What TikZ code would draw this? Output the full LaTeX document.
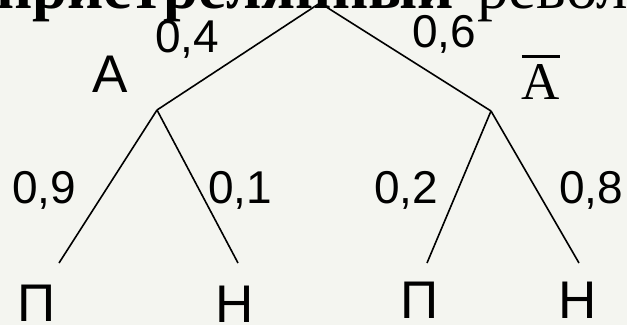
\documentclass[tikz,border=0pt]{standalone}
\usepackage{fontspec}
\setmainfont{Liberation Sans}
\newfontfamily\headfont{Liberation Serif}
\usetikzlibrary{positioning}
\definecolor{paper}{RGB}{244,245,240}
\definecolor{ink}{RGB}{0,0,0}
\newcommand{\barred}[1]{\vbox{\hrule height 2.6pt \kern 6pt \hbox{#1}}}
\tikzset{
  branch/.style={draw=ink, line width=1.6pt},
  prob/.style={anchor=base, font=\fontsize{46}{50}\selectfont, text=ink, inner sep=0pt},
  event/.style={anchor=base, font=\fontsize{53}{58}\selectfont, text=ink, inner sep=0pt},
  head/.style={anchor=base west, font=\fontsize{63}{70}\headfont, text=ink, inner sep=0pt},
}

\begin{document}
\begin{tikzpicture}[x=1pt,y=-1pt]
  \fill[paper] (0,0) rectangle (627,325);
  \useasboundingbox (0,0) rectangle (627,325);
  \clip (0,0) rectangle (627,325);
  % heading line, cut by the top edge
  \node[head] (title) at (-4,8) {\textbf{пристрелянный}};
  \node[head] (title2) at (477,8) {револьвер};
  % tree points
  \coordinate (root) at (320,3);
  \coordinate (a) at (157,110);
  \coordinate (nota) at (491,111);
  \coordinate (a-p) at (59,263);
  \coordinate (a-n) at (238,263);
  \coordinate (nota-p) at (427,263);
  \coordinate (nota-n) at (579,263);
  % events
  \node[event] (lblA) at (110,92) {A};
  \node[event] (lblnotA) at (541,99) {\headfont\barred{A}};
  \node[event] (leafap) at (37,321) {П};
  \node[event] (leafan) at (235,322) {Н};
  \node[event] (leafnp) at (420,318) {П};
  \node[event] (leafnn) at (578,318) {Н};
  % probabilities
  \node[prob] (p04) at (187,52) {0,4};
  \node[prob] (p06) at (444,47) {0,6};
  \node[prob] (p09) at (44,203) {0,9};
  \node[prob] (p01) at (240,203) {0,1};
  \node[prob] (p02) at (406,203) {0,2};
  \node[prob] (p08) at (591,203) {0,8};
  % branches
  \draw[branch] (root) -- (a);
  \draw[branch] (root) -- (nota);
  \draw[branch] (a) -- (a-p);
  \draw[branch] (a) -- (a-n);
  \draw[branch] (nota) -- (nota-p);
  \draw[branch] (nota) -- (nota-n);
\end{tikzpicture}
\end{document}
